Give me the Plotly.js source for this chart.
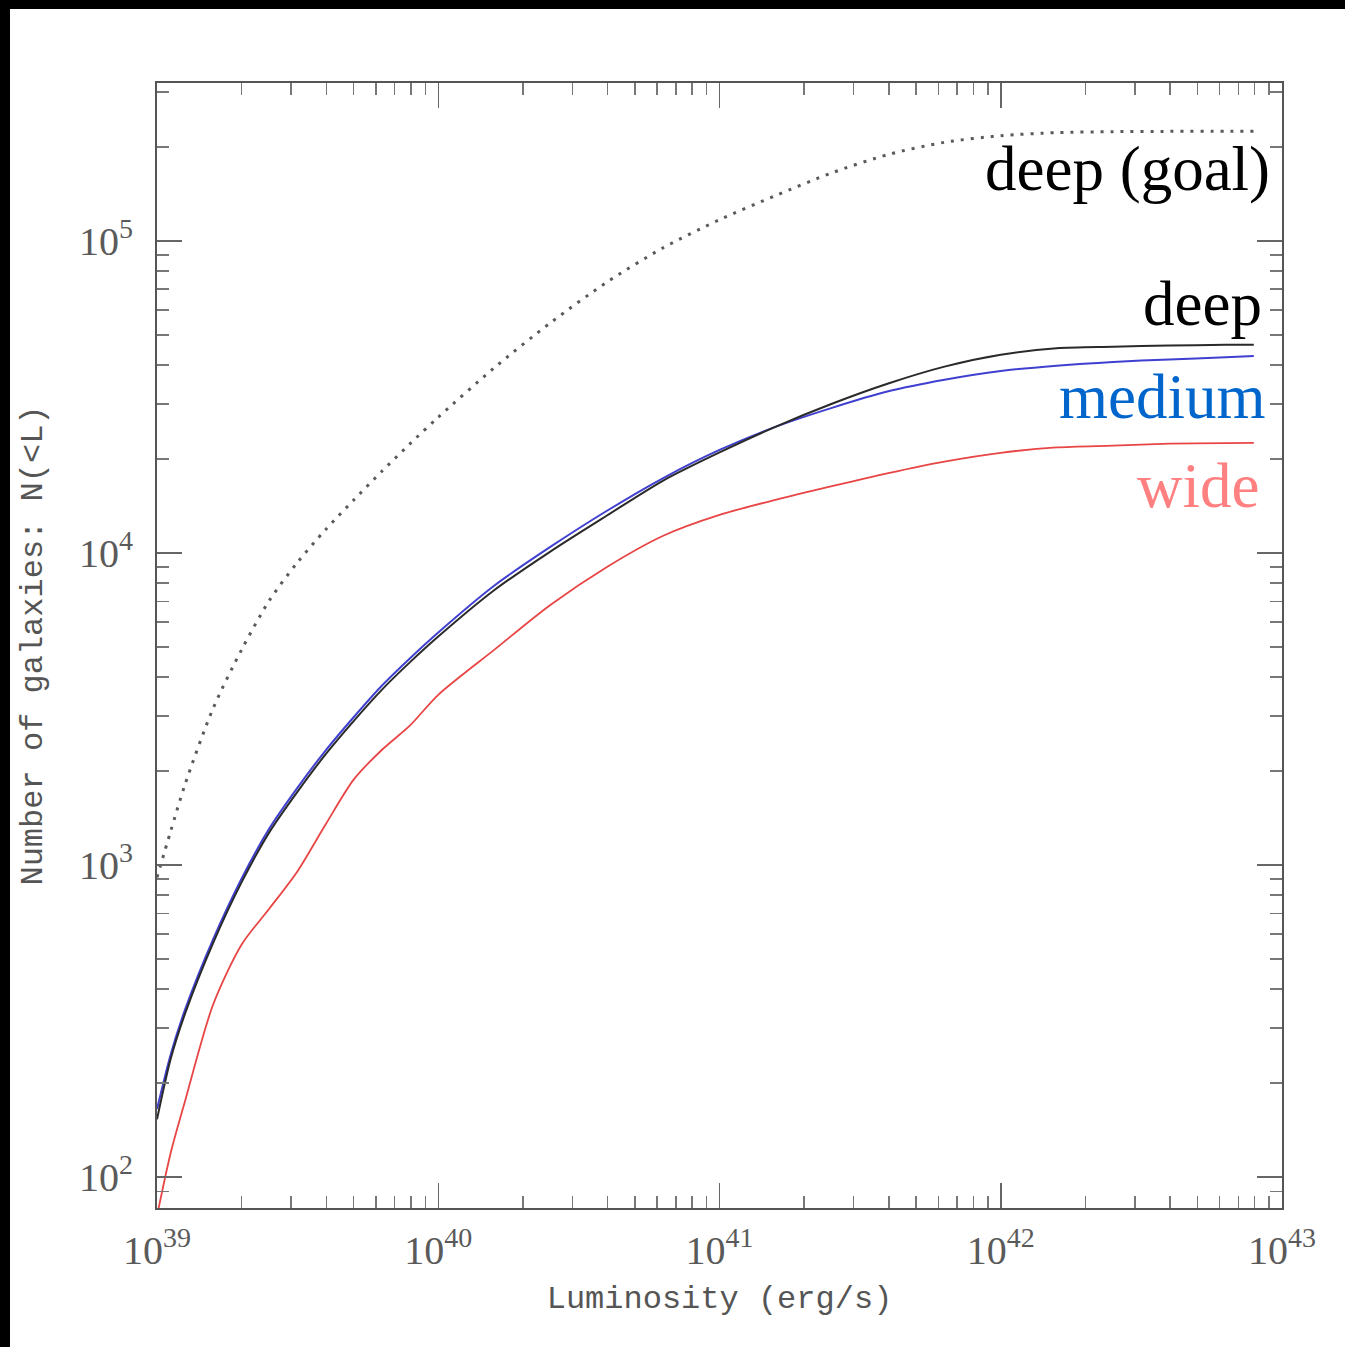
<!DOCTYPE html>
<html>
<head>
<meta charset="utf-8">
<script src="https://cdn.plot.ly/plotly-3.0.1.min.js"></script>
<style>
  html, body { margin: 0; padding: 0; background: #000; width: 1345px; height: 1347px; overflow: hidden; }
  #chart { position: absolute; left: 10px; top: 9px; width: 1335px; height: 1338px; background: #fff; }
</style>
</head>
<body>
<div id="chart"></div>
<script>
// Luminosity grid (erg/s)
const luminosity = [1.0e39, 1.12e39, 1.26e39, 1.58e39, 2.0e39, 2.51e39, 3.16e39, 3.98e39, 5.01e39, 6.31e39, 7.94e39,
                    1.0e40, 1.58e40, 2.51e40, 3.98e40, 6.31e40, 1.0e41, 1.58e41, 2.51e41, 3.98e41, 6.31e41,
                    1.0e42, 1.58e42, 2.51e42, 3.98e42, 6.31e42, 7.94e42];
// Cumulative number of galaxies N(<L)
const deepGoal = [912, 1288, 1820, 3162, 4898, 7047, 9333, 11890, 14790, 18280, 22390,
                  27230, 39170, 54700, 73790, 95060, 116900, 139600, 165200, 189200, 207000,
                  217300, 222300, 223900, 224400, 224400, 224400];
const deep     = [153, 240, 335, 560, 881, 1274, 1718, 2265, 2897, 3648, 4467,
                  5395, 7590, 10120, 13180, 17060, 20990, 25350, 30060, 34910, 39540,
                  43150, 45300, 45800, 46200, 46450, 46450];
const medium   = [165, 248, 345, 575, 905, 1310, 1770, 2330, 2980, 3760, 4600,
                  5560, 7850, 10470, 13650, 17380, 21380, 25350, 29170, 32960, 35890,
                  38280, 39810, 40930, 41690, 42360, 42760];
const wide     = [75, 120, 176, 355, 556, 725, 955, 1350, 1880, 2340, 2800,
                  3510, 4890, 6820, 9016, 11350, 13240, 14790, 16370, 18030, 19630,
                  20940, 21780, 22080, 22390, 22490, 22540];

const xTickVals = [1e39, 1e40, 1e41, 1e42, 1e43];
const xTickText = ['10<sup>39</sup>', '10<sup>40</sup>', '10<sup>41</sup>', '10<sup>42</sup>', '10<sup>43</sup>'];
const yTickVals = [1e2, 1e3, 1e4, 1e5];
const yTickText = ['10<sup>2</sup>', '10<sup>3</sup>', '10<sup>4</sup>', '10<sup>5</sup>'];

const labels = [
  {text: 'deep (goal)', color: '#000000', x: 0.9911, y: 0.9236},
  {text: 'deep',        color: '#000000', x: 0.9840, y: 0.8036},
  {text: 'medium',      color: '#0066cc', x: 0.9867, y: 0.7209},
  {text: 'wide',        color: '#ff8080', x: 0.9813, y: 0.6418}
];

const traces = [
  {x: luminosity, y: deepGoal, mode: 'lines', line: {color: '#5a5a5a', width: 3, dash: '3px,7px', shape: 'spline', smoothing: 0.8}, name: 'deep (goal)'},
  {x: luminosity, y: wide,     mode: 'lines', line: {color: '#e84545', width: 1.8, shape: 'spline', smoothing: 0.8}, name: 'wide'},
  {x: luminosity, y: medium,   mode: 'lines', line: {color: '#4040d0', width: 2, shape: 'spline', smoothing: 0.8}, name: 'medium'},
  {x: luminosity, y: deep,     mode: 'lines', line: {color: '#2a2a2a', width: 2, shape: 'spline', smoothing: 0.8}, name: 'deep'}
];

const axisCommon = {
  type: 'log',
  showline: true, linecolor: '#555', linewidth: 2,
  mirror: 'ticks',
  ticks: 'inside', ticklen: 25, tickwidth: 1.5, tickcolor: '#666',
  showgrid: false, zeroline: false,
  tickmode: 'array',
  tickfont: {family: 'Liberation Serif', size: 40, color: '#5a5a5a'},
  minor: {ticks: 'inside', ticklen: 12, tickwidth: 1.5, tickcolor: '#777', dtick: 'D1', showgrid: false}
};

const layout = {
  width: 1335, height: 1338,
  margin: {l: 147, r: 63, t: 74, b: 139},
  paper_bgcolor: '#ffffff', plot_bgcolor: '#ffffff',
  showlegend: false,
  xaxis: Object.assign({}, axisCommon, {
    range: [39, 43],
    tickvals: xTickVals, ticktext: xTickText,
    ticklabelstandoff: 6,
    title: {text: 'Luminosity (erg/s)', font: {family: 'Liberation Mono', size: 32, color: '#555'}, standoff: 14}
  }),
  yaxis: Object.assign({}, axisCommon, {
    range: [1.9006, 5.506],
    tickvals: yTickVals, ticktext: yTickText,
    ticklabelstandoff: 14,
    title: {text: 'Number of galaxies: N(<L)', font: {family: 'Liberation Mono', size: 32, color: '#555'}, standoff: 27}
  }),
  annotations: labels.map(l => ({
    text: l.text, x: l.x, y: l.y, xref: 'paper', yref: 'paper',
    xanchor: 'right', yanchor: 'middle', showarrow: false,
    font: {family: 'Liberation Serif', size: 63, color: l.color}
  }))
};

Plotly.newPlot('chart', traces, layout, {staticPlot: true, displayModeBar: false});
</script>
</body>
</html>
